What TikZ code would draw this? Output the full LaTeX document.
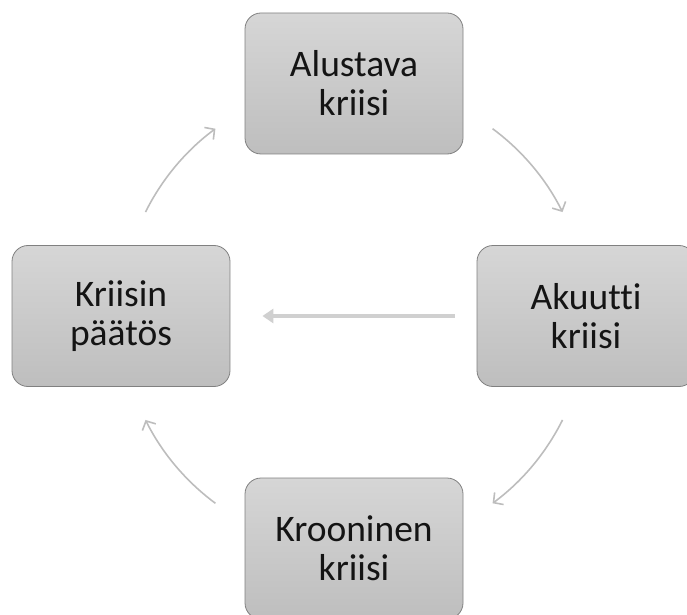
\documentclass[tikz,border=0pt]{standalone}
\usepackage{fontspec}
\setmainfont{Carlito}[Ligatures=NoCommon]
\usetikzlibrary{arrows.meta,calc}
\definecolor{boxtop}{HTML}{D6D6D6}
\definecolor{boxbot}{HTML}{BEBEBE}
\definecolor{boxline}{HTML}{808080}
\definecolor{arc}{HTML}{BDBDBD}
\definecolor{straight}{HTML}{D0D0D0}
\definecolor{txt}{HTML}{141414}
\tikzset{
  phase/.style={draw=boxline, line width=0.8pt, rounded corners=16pt,
    top color=boxtop, bottom color=boxbot,
    minimum width=218pt, minimum height=141pt, inner sep=0pt,
    align=center, text=txt,
    font=\fontsize{37.5}{39}\selectfont},
  cyclearrow/.style={draw=arc, line width=1.6pt,
    -{Straight Barb[length=7pt,width=15pt,line width=1.6pt]}},
  mainarrow/.style={draw=straight, line width=3.2pt,
    -{Triangle[length=11pt,width=14pt]}}
}
\begin{document}
\begin{tikzpicture}[x=1pt,y=1pt]
\useasboundingbox (0,0) rectangle (687,614);
\begin{scope}
\clip (0,0) rectangle (687,614);
\node[phase] (alustava) at (354,530.5) {Alustava\\kriisi};
\node[phase] (akuutti) at (586,298) {Akuutti\\kriisi};
\node[phase] (krooninen) at (354,65.5) {Krooninen\\kriisi};
\node[phase] (paatos) at (121,298) {Kriisin\\päätös};
\end{scope}
\coordinate (c) at (354,298);
\coordinate (s1) at ($(c)+(53.5:233)$);
\coordinate (s2) at ($(c)+(-26.5:233)$);
\coordinate (s3) at ($(c)+(233.5:233)$);
\coordinate (s4) at ($(c)+(153.5:233)$);
\draw[cyclearrow] (s1) arc[start angle=53.5, end angle=26.5, radius=233];
\draw[cyclearrow] (s2) arc[start angle=-26.5, end angle=-53.5, radius=233];
\draw[cyclearrow] (s3) arc[start angle=233.5, end angle=206.5, radius=233];
\draw[cyclearrow] (s4) arc[start angle=153.5, end angle=126.5, radius=233];
\draw[mainarrow, shorten <=22pt, shorten >=32pt] (akuutti.west) -- (paatos.east);
\end{tikzpicture}
\end{document}
